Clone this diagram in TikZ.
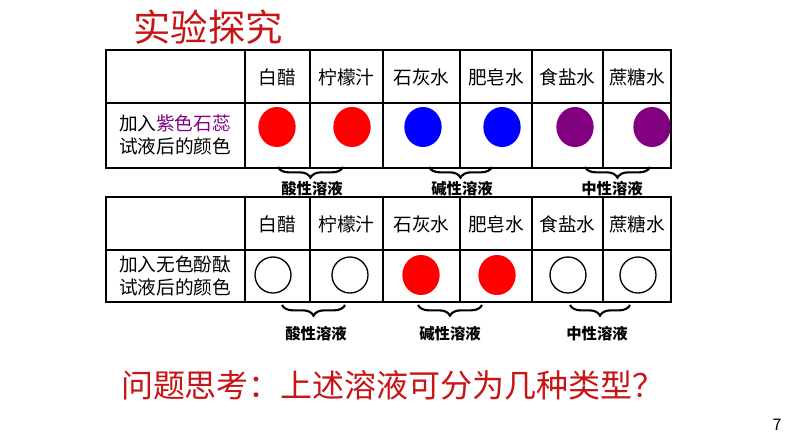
\documentclass[tikz,border=0pt]{standalone}
\usepackage{fontspec}
\setmainfont{Noto Sans CJK SC}
\usetikzlibrary{decorations.pathreplacing,shapes.geometric}
\definecolor{tred}{RGB}{200,20,20}
\definecolor{litmus}{RGB}{128,0,128}
\tikzset{
 cell/.style={font=\fontsize{14}{17}\selectfont},
 dot/.style={ellipse,minimum width=28pt,minimum height=30pt,inner sep=0pt},
 hollow/.style={circle,draw,line width=1pt,minimum size=27pt,inner sep=0pt},
 brc/.style={decorate,decoration={brace,mirror,amplitude=8pt},line width=1.6pt},
 blab/.style={font=\fontsize{11.5}{14}\selectfont\bfseries}
}
\begin{document}
\begin{tikzpicture}[x=0.75pt,y=-0.75pt]
\useasboundingbox (0,0) rectangle (794,447);
\node[text=tred,font=\fontsize{28}{32}\selectfont] (title) at (208,27) {实验探究};
\foreach \ya/\yb/\yc in {50/103/168,197/250/302}{
 \draw[line width=1.3pt] (106,\ya) rectangle (671,\yc);
 \draw[line width=1.3pt] (106,\yb) -- (671,\yb);
 \foreach \x in {245,310,383,460,532,603}{\draw[line width=0.9pt] (\x,\ya) -- (\x,\yc);}
}
\node[cell] (h1) at (277.5,77) {白醋};
\node[cell] (h2) at (346.5,77) {柠檬汁};
\node[cell] (h3) at (421.5,77) {石灰水};
\node[cell] (h4) at (496,77) {肥皂水};
\node[cell] (h5) at (567.5,77) {食盐水};
\node[cell] (h6) at (637,77) {蔗糖水};
\node[cell] (k1) at (277.5,224) {白醋};
\node[cell] (k2) at (346.5,224) {柠檬汁};
\node[cell] (k3) at (421.5,224) {石灰水};
\node[cell] (k4) at (496,224) {肥皂水};
\node[cell] (k5) at (567.5,224) {食盐水};
\node[cell] (k6) at (637,224) {蔗糖水};
\node[cell,align=left] (l1) at (175,135) {加入\textcolor{litmus}{紫色石蕊}\\试液后的颜色};
\node[cell,align=left] (l2) at (175,276) {加入无色酚酞\\试液后的颜色};
\node[dot,fill=red] (d1) at (277,127) {};
\node[dot,fill=red] (d2) at (352,127) {};
\node[dot,fill=blue] (d3) at (423,127) {};
\node[dot,fill=blue] (d4) at (502,127) {};
\node[dot,fill=litmus] (d5) at (575,127) {};
\node[dot,fill=litmus] (d6) at (652,127) {};
\node[hollow] (e1) at (273,275) {};
\node[hollow] (e2) at (350,275) {};
\node[dot,fill=red] (e3) at (421,275) {};
\node[dot,fill=red] (e4) at (497,275) {};
\node[hollow] (e5) at (568,275) {};
\node[hollow] (e6) at (638,275) {};
\coordinate (b1a) at (278,167); \coordinate (b1b) at (343,167);
\coordinate (b2a) at (429,167); \coordinate (b2b) at (492,167);
\coordinate (b3a) at (585,167); \coordinate (b3b) at (650,167);
\draw[brc] (b1a) -- (b1b); \draw[brc] (b2a) -- (b2b); \draw[brc] (b3a) -- (b3b);
\node[blab] (t1) at (312,188.5) {酸性溶液};
\node[blab] (t2) at (462,188.5) {碱性溶液};
\node[blab] (t3) at (612,188.5) {中性溶液};
\coordinate (c1a) at (282,305); \coordinate (c1b) at (345,305);
\coordinate (c2a) at (418,305); \coordinate (c2b) at (482,305);
\coordinate (c3a) at (570,305); \coordinate (c3b) at (630,305);
\draw[brc] (c1a) -- (c1b); \draw[brc] (c2a) -- (c2b); \draw[brc] (c3a) -- (c3b);
\node[blab] (u1) at (316,334) {酸性溶液};
\node[blab] (u2) at (450,334) {碱性溶液};
\node[blab] (u3) at (597,334) {中性溶液};
\node[text=tred,font=\fontsize{24}{28}\selectfont] (q) at (393,385) {问题思考：上述溶液可分为几种类型？};
\node[font=\fontsize{12}{14}\selectfont] (pg) at (777,425) {7};
\end{tikzpicture}
\end{document}
